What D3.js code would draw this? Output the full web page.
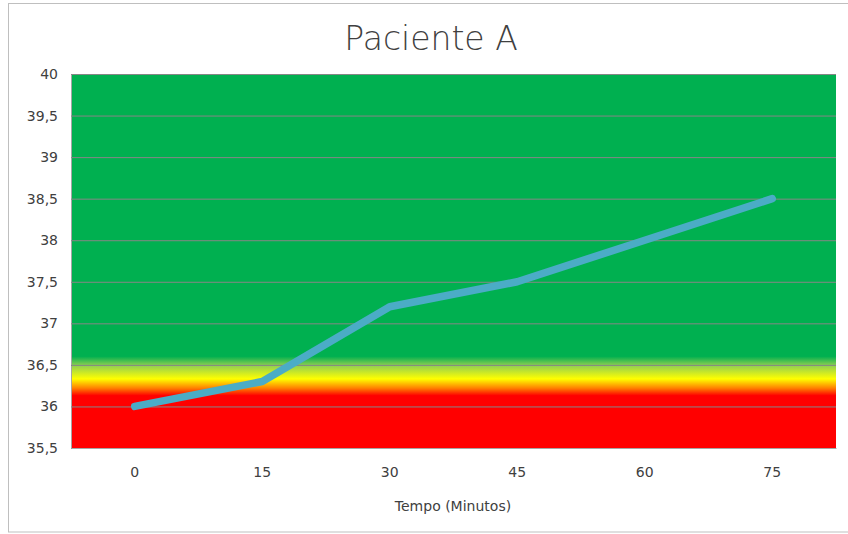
<!DOCTYPE html>
<html><head><meta charset="utf-8">
<script src="https://cdn.jsdelivr.net/npm/d3@7"></script>
<style>body{margin:0;background:#fff}svg{display:block}text{font-family:"DejaVu Sans",sans-serif;fill:#404040}</style>
</head><body><svg id="c" width="848" height="534"></svg>
<script>
const categories = ["0","15","30","45","60","75"];
const values = [36.0, 36.3, 37.2, 37.5, 38.0, 38.5];
const yTicks = [35.5,36,36.5,37,37.5,38,38.5,39,39.5,40];
const title = "Paciente A";
const xTitle = "Tempo (Minutos)";

const svg = d3.select("#c");
const m = {l:71, r:836, t:74, b:448};
svg.append("rect").attr("x",8.5).attr("y",3.5).attr("width",850).attr("height",528.5)
  .attr("fill","#fff").attr("stroke","#bfbfbf");

const x = d3.scaleBand().domain(categories).range([m.l,m.r]);
const y = d3.scaleLinear().domain([35.5,40]).range([m.b,m.t]);

const defs = svg.append("defs");
const g = defs.append("linearGradient").attr("id","bg").attr("x1",0).attr("y1",0).attr("x2",0).attr("y2",1);
[[0,"#00b050"],[0.755,"#00b050"],[0.78,"#92d050"],[0.815,"#ffff00"],[0.84,"#ff8000"],[0.86,"#ff0000"],[1,"#ff0000"]]
 .forEach(s=>g.append("stop").attr("offset",s[0]).attr("stop-color",s[1]));
svg.append("rect").attr("x",m.l).attr("y",m.t).attr("width",m.r-m.l).attr("height",m.b-m.t).attr("fill","url(#bg)");

const fmt = v => String(v).replace(".",",");
const ya = svg.append("g").attr("transform",`translate(${m.l},0)`)
  .call(d3.axisLeft(y).tickValues(yTicks).tickFormat(fmt).tickSize(-(m.r-m.l)).tickPadding(13));
ya.select(".domain").attr("stroke","#a6a6a6");
ya.selectAll(".tick line").attr("stroke","#868686").attr("stroke-width",1);
ya.selectAll(".tick text").attr("font-size",14).attr("fill","#404040");

const xa = svg.append("g").attr("transform",`translate(0,${m.b})`)
  .call(d3.axisBottom(x).tickSize(0).tickPadding(19));
xa.select(".domain").attr("stroke","#a6a6a6");
xa.selectAll(".tick text").attr("font-size",14).attr("fill","#404040");

const line = d3.line().x((d,i)=>x(categories[i])+x.bandwidth()/2).y(d=>y(d));
svg.append("path").datum(values).attr("d",line).attr("fill","none")
  .attr("stroke","#4bacc6").attr("stroke-width",7.5).attr("stroke-linecap","round").attr("stroke-linejoin","round");

svg.append("text").attr("x",431).attr("y",50).attr("text-anchor","middle").attr("font-size",33).attr("font-weight",200).attr("fill","#111").text(title);
svg.append("text").attr("x",453).attr("y",511).attr("text-anchor","middle").attr("font-size",14).text(xTitle);
</script></body></html>
